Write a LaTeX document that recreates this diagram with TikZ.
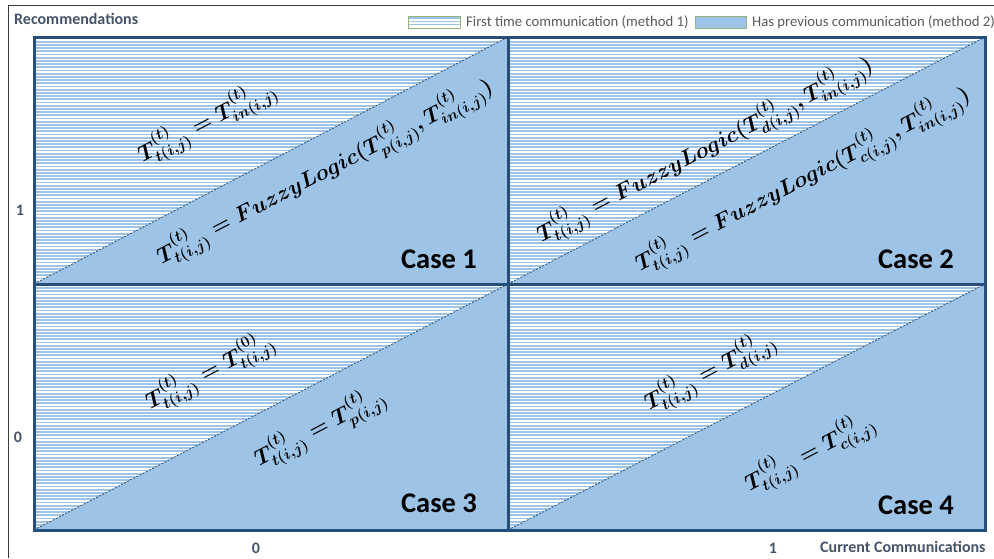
\RequirePackage{fix-cm}
\documentclass[tikz,border=0pt]{standalone}
\usepackage{fontspec}
\setmainfont{Carlito}
\usepackage{amsmath}
\definecolor{hatchblue}{RGB}{157,195,230}
\definecolor{solidblue}{RGB}{157,195,230}
\definecolor{bordercol}{RGB}{38,78,122}
\definecolor{labelgray}{RGB}{68,84,106}
\definecolor{leggray}{RGB}{89,89,89}
\definecolor{framegray}{RGB}{60,60,60}
\definecolor{leggreen}{RGB}{150,180,125}
\begin{document}
\begin{tikzpicture}[x=1pt,y=-1pt,
  lbl/.style={font=\bfseries\fontsize{16}{18}\selectfont, text=labelgray, inner sep=0pt},
  leg/.style={font=\fontsize{14.7}{16}\selectfont, text=leggray, anchor=west, inner sep=0pt},
  caselbl/.style={font=\bfseries\fontsize{28.5}{32}\selectfont, text=black, inner sep=0pt},
  eq/.style={font=\fontsize{22}{26}\selectfont\boldmath, rotate=27.5, inner sep=0pt},
  gridline/.style={draw=bordercol, line width=3pt},
  diag/.style={draw=bordercol, line width=0.8pt, dash pattern=on 2pt off 1.5pt},
  hatchline/.style={draw=hatchblue, line width=1.8pt},
  legbox/.style={draw=leggreen, line width=0.8pt},
]
\useasboundingbox (0,0) rectangle (994,558);
% outer frame
\coordinate (F1) at (8,558);
\coordinate (F2) at (8,5);
\coordinate (F3) at (994,5);
\draw[framegray, line width=1pt] (F1) -- (F2) -- (F3);
% grid corners
\coordinate (A1) at (34,37);  \coordinate (A2) at (508,37);  \coordinate (A3) at (985,37);
\coordinate (B1) at (34,284); \coordinate (B2) at (508,284); \coordinate (B3) at (985,284);
\coordinate (C1) at (34,530); \coordinate (C2) at (508,530); \coordinate (C3) at (985,530);
% hatch background
\fill[white] (A1) rectangle (C3);
\begin{scope}
\clip (A1) rectangle (C3);
\foreach \y in {38.5,41.7,...,531} \draw[hatchline] (34,\y) -- (985,\y);
\end{scope}
% solid triangles
\fill[solidblue] (B1) -- (B2) -- (A2) -- cycle;
\fill[solidblue] (B2) -- (B3) -- (A3) -- cycle;
\fill[solidblue] (C1) -- (C2) -- (B2) -- cycle;
\fill[solidblue] (C2) -- (C3) -- (B3) -- cycle;
% diagonals
\draw[diag] (B1) -- (A2);
\draw[diag] (B2) -- (A3);
\draw[diag] (C1) -- (B2);
\draw[diag] (C2) -- (B3);
% grid
\draw[gridline] (A1) rectangle (C3);
\draw[gridline] (A2) -- (C2);
\draw[gridline] (B1) -- (B3);
% formulas
\node[eq] (e1a) at (207,122) {$T_{t(i,j)}^{(t)} = T_{in(i,j)}^{(t)}$};
\node[eq] (e1b) at (325,172) {$T_{t(i,j)}^{(t)} = FuzzyLogic(T_{p(i,j)}^{(t)}, T_{in(i,j)}^{(t)})$};
\node[eq] (e2a) at (705,150) {$T_{t(i,j)}^{(t)} = FuzzyLogic(T_{d(i,j)}^{(t)}, T_{in(i,j)}^{(t)})$};
\node[eq] (e2b) at (803,180) {$T_{t(i,j)}^{(t)} = FuzzyLogic(T_{c(i,j)}^{(t)}, T_{in(i,j)}^{(t)})$};
\node[eq] (e3a) at (210,372) {$T_{t(i,j)}^{(t)} = T_{t(i,j)}^{(0)}$};
\node[eq] (e3b) at (320,428) {$T_{t(i,j)}^{(t)} = T_{p(i,j)}^{(t)}$};
\node[eq] (e4a) at (710,372) {$T_{t(i,j)}^{(t)} = T_{d(i,j)}^{(t)}$};
\node[eq] (e4b) at (810,453) {$T_{t(i,j)}^{(t)} = T_{c(i,j)}^{(t)}$};
% case labels
\node[caselbl] (k1) at (439,259) {Case 1};
\node[caselbl] (k2) at (916,259) {Case 2};
\node[caselbl] (k3) at (439,503) {Case 3};
\node[caselbl] (k4) at (916,505) {Case 4};
% axis labels
\node[lbl, anchor=west] (yl) at (14,19) {Recommendations};
\node[lbl] (y1) at (20,210) {1};
\node[lbl] (y0) at (18,437) {0};
\node[lbl] (x0) at (256,548) {0};
\node[lbl] (x1) at (773,548) {1};
\node[lbl, anchor=west] (xl) at (820,547) {Current Communications};
% legend
\coordinate (L1a) at (408,16); \coordinate (L1b) at (460,28);
\fill[white] (L1a) rectangle (L1b);
\foreach \y in {18.2,21.4,24.6} \draw[hatchblue, line width=1.6pt] (408.5,\y) -- (459.5,\y);
\draw[legbox] (L1a) rectangle (L1b);
\node[leg] (lt1) at (466,22) {First time communication (method 1)};
\coordinate (L2a) at (695,16); \coordinate (L2b) at (746,28);
\fill[solidblue] (L2a) rectangle (L2b);
\draw[legbox] (L2a) rectangle (L2b);
\node[leg] (lt2) at (752,22) {Has previous communication (method 2)};
\end{tikzpicture}
\end{document}
